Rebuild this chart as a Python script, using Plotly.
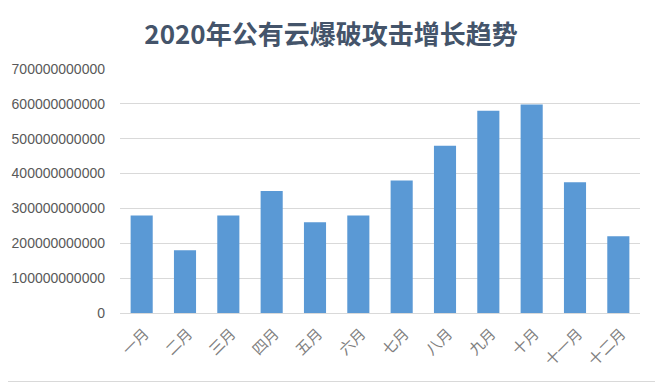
import plotly.graph_objects as go

months = ["一月", "二月", "三月", "四月", "五月", "六月", "七月", "八月", "九月", "十月", "十一月", "十二月"]
attacks = [280e9, 180e9, 280e9, 350e9, 260e9, 280e9, 380e9, 480e9, 580e9, 598e9, 375e9, 220e9]
tick_vals = [0, 100e9, 200e9, 300e9, 400e9, 500e9, 600e9, 700e9]
tick_text = ["0", "100000000000", "200000000000", "300000000000", "400000000000",
             "500000000000", "600000000000", "700000000000"]
title_text = "2020年公有云爆破攻击增长趋势"

# the page body has an 8px margin, so the figure is drawn 8px in from the window edge
OFF = 8
W, H = 663 - OFF, 383 - OFF
L, R, T, B = 120 - OFF, 23, 69 - OFF, 70
pw, ph = W - L - R, H - T - B

fig = go.Figure()
fig.add_trace(go.Bar(
    x=months, y=attacks,
    marker=dict(color="#5a99d5", line=dict(width=0)),
    width=0.51,
))

fig.update_layout(
    width=W, height=H,
    margin=dict(l=L, r=R, t=T, b=B, autoexpand=False),
    paper_bgcolor="white", plot_bgcolor="white",
    showlegend=False,
    title=dict(text="<b>" + title_text + "</b>", x=(331 - OFF) / W, xanchor="center", xref="container",
               y=1 - (35 - OFF) / H, yanchor="middle", yref="container",
               font=dict(family="Liberation Sans Narrow, Noto Sans CJK SC", size=26, color="#44546a")),
    xaxis=dict(tickangle=-45, showgrid=False, showline=False, ticks="", automargin=False,
               ticklabelstandoff=8, ticklabelshift=3,
               tickfont=dict(family="Noto Sans CJK SC", size=15, color="#808080"),
               range=[-0.5, 11.5]),
    yaxis=dict(range=[0, 700e9], tickvals=tick_vals, ticktext=tick_text, automargin=False,
               showgrid=True, gridcolor="#d9d9d9", gridwidth=1,
               zeroline=True, zerolinecolor="#d9d9d9", zerolinewidth=1,
               showline=False, ticks="", ticklabelstandoff=14,
               tickfont=dict(family="Liberation Sans", size=14, color="#595959")),
)

# right and bottom edges of the chart frame
fig.add_shape(type="line", xref="paper", yref="paper",
              x0=1 + (R - 2.5) / pw, x1=1 + (R - 2.5) / pw, y0=-(B - 0.5) / ph, y1=1 + T / ph,
              line=dict(color="#d9d9d9", width=1), layer="below")
fig.add_shape(type="line", xref="paper", yref="paper",
              x0=-L / pw, x1=1 + (R - 2.5) / pw, y0=-(B - 1.5) / ph, y1=-(B - 1.5) / ph,
              line=dict(color="#d9d9d9", width=1), layer="below")

fig.write_html("out.html")
